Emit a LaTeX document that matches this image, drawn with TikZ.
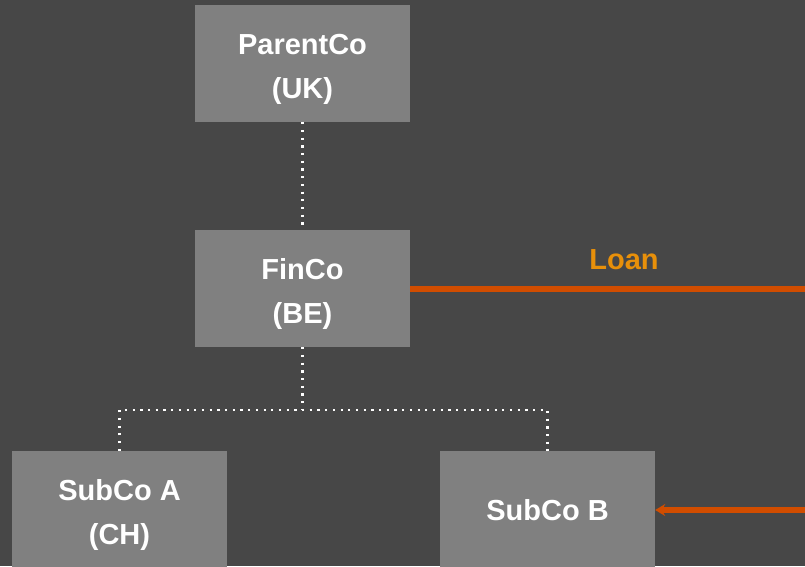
\documentclass[tikz,border=0pt]{standalone}
\usepackage{fontspec}
\setmainfont{Liberation Sans}
\usetikzlibrary{arrows.meta}
\definecolor{bg}{HTML}{474747}
\definecolor{boxgray}{HTML}{808080}
\definecolor{loanline}{HTML}{D14D00}
\definecolor{loantext}{HTML}{E8900A}
% taller first line, so that two-line labels sit a little lower in their box
\newcommand{\toproom}{\rule{0pt}{32pt}}
\begin{document}
\begin{tikzpicture}[x=1pt,y=-1pt,
  entity/.style={fill=boxgray, draw=none, minimum width=215pt, minimum height=117pt,
    inner sep=0pt, text=white, align=center,
    font=\fontsize{29}{44}\selectfont\bfseries},
  link/.style={draw=white, line width=2.2pt, dash pattern=on 2.2pt off 5.5pt},
  flow/.style={draw=loanline, line width=6pt}]
  % canvas
  \fill[bg] (0,0) rectangle (805,566);
  \useasboundingbox (0,0) rectangle (805,566);

  % entities
  \node[entity] (parent) at (302.5,63.5) {\toproom ParentCo\\(UK)};
  \node[entity] (finco)  at (302.5,288.5) {\toproom FinCo\\(BE)};
  \node[entity] (suba)   at (119.5,509.5) {\toproom SubCo A\\(CH)};
  \node[entity] (subb)   at (547.5,509.5) {\rule{0pt}{23pt}SubCo B};

  % ownership links
  \coordinate (split) at (302.5,410);
  \draw[link] (parent.south) -- (finco.north);
  \draw[link] (finco.south) -- (split);
  \draw[link] (suba.north) -- (suba.north |- split) -- (subb.north |- split) -- (subb.north);

  % loan flows
  \coordinate (loanend) at (805,288.5);
  \coordinate (repayend) at (805,510);
  \draw[flow] (finco.east |- loanend) -- (loanend);
  \node[text=loantext, font=\fontsize{29}{32}\selectfont\bfseries] (loan) at (624,260) {Loan};
  \draw[flow, -{Stealth[length=10pt,width=12pt]}] (repayend) -- (subb.east |- repayend);
\end{tikzpicture}
\end{document}
